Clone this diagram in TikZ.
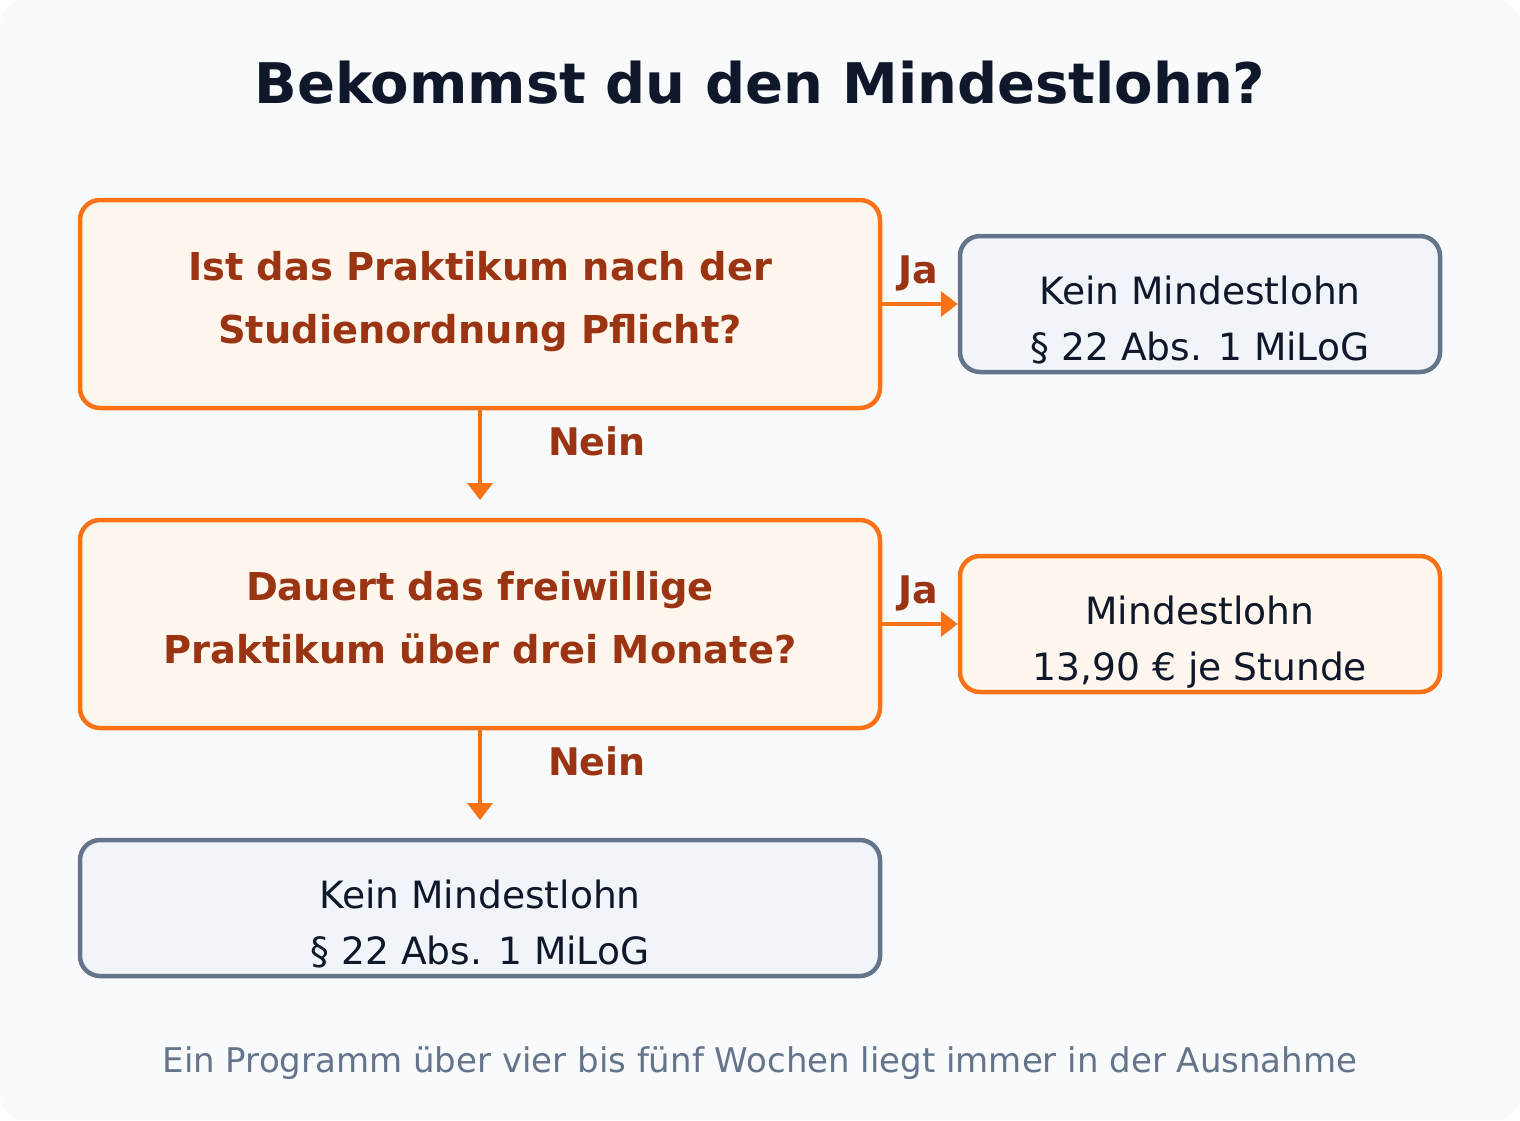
\documentclass[tikz,border=0pt]{standalone}
\usepackage{fontspec}
\setmainfont{DejaVu Sans}
\usetikzlibrary{arrows.meta}
\definecolor{bgc}{HTML}{F8FAFC}
\definecolor{orng}{HTML}{F97316}
\definecolor{orngbg}{HTML}{FFF7ED}
\definecolor{orngtxt}{HTML}{9A3412}
\definecolor{slatec}{HTML}{64748B}
\definecolor{slatebg}{HTML}{F1F5F9}
\definecolor{darktxt}{HTML}{0F172A}
\tikzset{
  qbox/.style={draw=orng, fill=orngbg, line width=4.5pt, rounded corners=20pt,
    minimum width=800pt, minimum height=208pt, inner sep=0pt, text=orngtxt,
    font=\fontsize{38.4}{63}\selectfont\bfseries, text height=10pt, text depth=58pt},
  abox/.style={line width=4.5pt, rounded corners=20pt, minimum height=136pt,
    inner sep=0pt, text=darktxt, font=\fontsize{37.6}{56}\selectfont,
    text height=30pt, text depth=30pt},
  nobox/.style={abox, draw=slatec, fill=slatebg},
  yesbox/.style={abox, draw=orng, fill=orngbg},
  arr/.style={draw=orng, line width=4.5pt, -{Triangle[length=17pt,width=25pt]}},
  lbl/.style={text=orngtxt, font=\fontsize{38}{45}\selectfont\bfseries, anchor=base, inner sep=0pt},
}
\newcommand{\twolines}[2]{\begin{tabular}[t]{@{}c@{}}#1\\#2\end{tabular}}
\begin{document}
\begin{tikzpicture}[x=1pt,y=-1pt]
\useasboundingbox (0,0) rectangle (1520,1120);
\fill[bgc, rounded corners=24pt] (0,0) rectangle (1520,1120);
\node[anchor=base, inner sep=0pt, text=darktxt, font=\fontsize{56}{64}\selectfont\bfseries] (title) at (760,103) {Bekommst du den Mindestlohn?};

\node[qbox] (q1) at (480,304) {\twolines{Ist das Praktikum nach der}{Studienordnung Pflicht?}};
\node[nobox, minimum width=480pt] (r1) at (1200,304) {\twolines{Kein Mindestlohn}{§ 22 Abs. 1 MiLoG}};
\node[qbox] (q2) at (480,624) {\twolines{Dauert das freiwillige}{Praktikum über drei Monate?}};
\node[yesbox, minimum width=480pt] (r2) at (1200,624) {\twolines{Mindestlohn}{13,90 € je Stunde}};
\node[nobox, minimum width=800pt] (r3) at (480,908) {\twolines{Kein Mindestlohn}{§ 22 Abs. 1 MiLoG}};

\coordinate (d1) at (480,500);
\coordinate (d2) at (480,820);
\draw[arr] (q1.east) -- (r1.west);
\draw[arr] (q2.east) -- (r2.west);
\draw[arr] (q1.south) -- (d1);
\draw[arr] (q2.south) -- (d2);

\node[lbl] (ja1) at (918,283) {Ja};
\node[lbl] (ja2) at (918,603) {Ja};
\node[lbl] (nein1) at (597,455) {Nein};
\node[lbl] (nein2) at (597,775) {Nein};

\node[anchor=base, inner sep=0pt, text=slatec, font=\fontsize{34}{40}\selectfont] (foot) at (760,1072) {Ein Programm über vier bis fünf Wochen liegt immer in der Ausnahme};
\end{tikzpicture}
\end{document}
